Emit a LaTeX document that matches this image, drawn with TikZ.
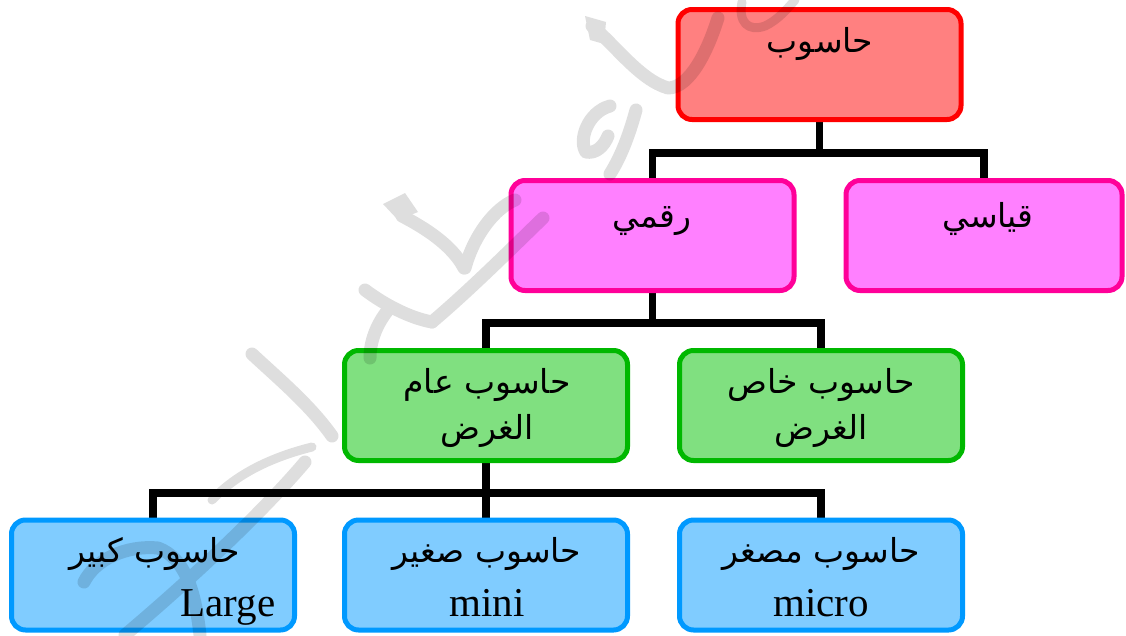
\documentclass[tikz,border=0pt]{standalone}
\usepackage{fontspec}
\setmainfont{Liberation Serif}
\newfontfamily\arabicfont[Script=Arabic]{DejaVu Sans}
\TeXXeTstate=1
\pgfdeclarelayer{background}
\pgfsetlayers{background,main}
\definecolor{rootline}{HTML}{FF0000}
\definecolor{rootfill}{HTML}{FF8080}
\definecolor{pinkline}{HTML}{FF0099}
\definecolor{pinkfill}{HTML}{FF80FF}
\definecolor{greenline}{HTML}{00B800}
\definecolor{greenfill}{HTML}{80E080}
\definecolor{blueline}{HTML}{0099FF}
\definecolor{bluefill}{HTML}{80CCFF}
\tikzset{
  box/.style={draw, line width=5pt, rounded corners=14pt, minimum width=283pt,
    minimum height=110pt, inner sep=0pt},
  rootbox/.style={box, draw=rootline, fill=rootfill},
  pinkbox/.style={box, draw=pinkline, fill=pinkfill},
  greenbox/.style={box, draw=greenline, fill=greenfill},
  bluebox/.style={box, draw=blueline, fill=bluefill},
  conn/.style={line width=7.5pt, black},
  ar/.style={font=\arabicfont\fontsize{33}{40}\selectfont, anchor=base, inner sep=0pt},
  lat/.style={font=\fontsize{41}{48}\selectfont, anchor=base, inner sep=0pt},
  wm/.style={line width=13pt, black, line cap=round, line join=round},
  wmthin/.style={line width=9pt, black, line cap=round, line join=round}
}
\begin{document}
\begin{tikzpicture}[x=1pt,y=-1pt]
\useasboundingbox (0,0) rectangle (1126,635);

% boxes
\node[rootbox]  (root)   at (819.5,64.5)   {};
\node[pinkbox]  (digit)  at (652.5,235.5) {};
\node[pinkbox, minimum width=276pt] (analog) at (984,235.5) {};
\node[greenbox] (general) at (486,405.5) {};
\node[greenbox] (special) at (821,405.5) {};
\node[bluebox]  (large)  at (153,575)  {};
\node[bluebox]  (mini)   at (486,575)  {};
\node[bluebox]  (micro)  at (821,575)  {};

% labels
\node[ar] (troot) at (820,52) {\beginR حاسوب\endR};
\node[ar] (tdigit) at (652,227) {\beginR رقمي\endR};
\node[ar] (tanalog) at (988,227) {\beginR قياسي\endR};
\node[ar] (tgen1) at (487,393) {\beginR حاسوب عام\endR};
\node[ar] (tspe1) at (821,393) {\beginR حاسوب خاص\endR};
\node[ar] (tgen2) at (487,439) {\beginR الغرض\endR};
\node[ar] (tspe2) at (821,439) {\beginR الغرض\endR};
\node[ar] (tlarge1) at (155,562) {\beginR حاسوب كبير\endR};
\node[ar] (tmini1) at (487,562) {\beginR حاسوب صغير\endR};
\node[ar] (tmicro1) at (821,562) {\beginR حاسوب مصغر\endR};
\node[lat] (tlarge2) at (228,616) {Large};
\node[lat] (tmini2) at (487,616) {mini};
\node[lat] (tmicro2) at (821,616) {micro};

% tree connectors
\path (root.south) ++(0,31) coordinate (j1);
\path (digit.south) ++(0,30) coordinate (j2);
\path (general.south) ++(0,30) coordinate (j3);
\begin{pgfonlayer}{background}
\draw[conn] (root.south) -- (j1);
\draw[conn] (digit.north) -- (digit.north |- j1) -- (analog.north |- j1) -- (analog.north);
\draw[conn] (digit.south) -- (j2);
\draw[conn] (general.north) -- (general.north |- j2) -- (special.north |- j2) -- (special.north);
\draw[conn] (general.south) -- (j3);
\draw[conn] (large.north) -- (large.north |- j3) -- (micro.north |- j3) -- (micro.north);
\draw[conn] (j3) -- (mini.north);
\end{pgfonlayer}

% handwritten watermark, one translucent group
\begin{scope}[transparency group, opacity=0.13]
  % top stroke running into the root box
  \draw[wm] (592,26) .. controls (615,45) and (640,80) .. (668,88)
            .. controls (690,88) and (708,50) .. (718,18);
  \fill (585,16) -- (606,22) -- (604,44) -- (590,40) -- cycle;
  \draw[wmthin] (742,2) .. controls (738,22) and (748,32) .. (765,26)
                .. controls (778,20) and (788,8) .. (795,0);
  % small hooked letter
  \draw[wm] (610,106) .. controls (588,112) and (578,140) .. (586,152)
            .. controls (596,154) and (604,146) .. (608,136);
  \draw[wm] (636,110) .. controls (630,132) and (622,155) .. (610,174);
  % looped letter with its stem
  \fill (383,204) -- (405,193) -- (418,212) -- (398,220) -- cycle;
  \draw[wm] (402,216) .. controls (425,228) and (452,245) .. (464,268);
  \draw[wm] (515,200) .. controls (495,208) and (474,235) .. (465,268);
  \draw[wm] (543,218) .. controls (515,245) and (470,290) .. (432,322);
  \draw[wm] (365,290) .. controls (385,305) and (410,318) .. (432,322);
  \draw[wm] (388,310) .. controls (376,325) and (370,342) .. (370,358);
  % upright stroke
  \draw[wm] (252,354) .. controls (280,380) and (310,405) .. (332,436);
  % lower hooked letter
  \draw[wmthin] (312,447) .. controls (280,455) and (240,470) .. (212,500);
  \draw[wm] (305,462) .. controls (260,515) and (190,580) .. (125,635);
  \draw[wm] (84,582) .. controls (95,560) and (125,545) .. (158,548)
            .. controls (185,558) and (195,590) .. (200,635);
\end{scope}
\end{tikzpicture}
\end{document}
